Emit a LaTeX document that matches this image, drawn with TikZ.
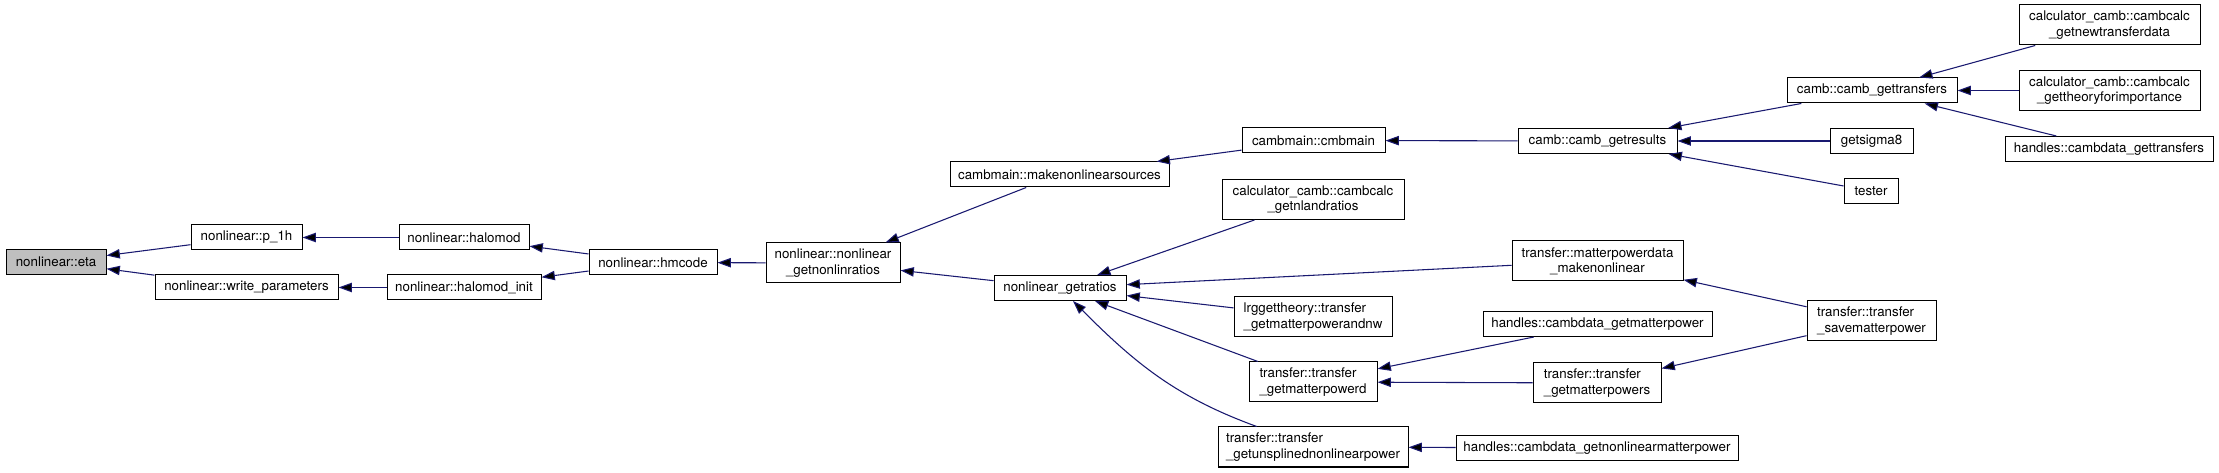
\documentclass[tikz,border=0pt]{standalone}
\usepackage{fontspec}
\setmainfont{TeX Gyre Heros}
\usetikzlibrary{arrows.meta}
\definecolor{edgeblue}{RGB}{25,25,112}
\definecolor{fillgray}{RGB}{191,191,191}

\begin{document}
\begin{tikzpicture}[x=0.75pt,y=0.75pt,
  box/.style={shape=rectangle,draw=black,line width=0.75pt,minimum height=18.75pt,inner sep=2pt,font=\fontsize{10}{11.5}\selectfont},
  twoline/.style={box,minimum height=30pt},
  call/.style={-{Triangle[length=10pt,width=7pt]},draw=edgeblue,line width=0.8pt}]

\path [fill=white,use as bounding box] (0,0) rectangle (2219,-473);

%draw the called function and its direct callers
\node [box,fill=fillgray,minimum width=75pt] at (56,-262) (eta) {nonlinear::eta};
\node [box,minimum width=83.25pt] at (246.5,-237.5) (p_1h) {nonlinear::p\_1h};
\node [box,minimum width=137.25pt] at (246.5,-287.5) (write_par) {nonlinear::write\_parameters};

%halo model column
\node [box,minimum width=97.5pt] at (464,-237.5) (halomod) {nonlinear::halomod};
\node [box,minimum width=115.5pt] at (464,-287.5) (halomod_init) {nonlinear::halomod\_init};
\node [box,minimum width=96pt] at (653,-262.5) (hmcode) {nonlinear::hmcode};
\node [twoline,align=center,minimum width=100.5pt] at (833,-263) (nonlinratios) {nonlinear::nonlinear\\\_getnonlinratios};

%sources and ratios
\node [box,minimum width=164.25pt] at (1059.5,-174.5) (makesources) {cambmain::makenonlinearsources};
\node [box,minimum width=99pt] at (1060,-288) (getratios) {nonlinear\_getratios};

%callers of nonlinear_getratios
\node [box,minimum width=107.25pt] at (1313.5,-140.5) (cmbmain) {cambmain::cmbmain};
\node [twoline,align=center,minimum width=136.5pt] at (1313,-199.5) (nlandratios) {calculator\_camb::cambcalc\\\_getnlandratios};
\node [twoline,align=left,minimum width=118.5pt] at (1313,-317) (lrg) {lrggettheory::transfer\\\_getmatterpowerandnw};
\node [twoline,align=left,minimum width=96pt] at (1313,-382) (powerd) {transfer::transfer\\\_getmatterpowerd};
\node [twoline,align=left,minimum width=142.5pt] at (1313,-447) (unsplined) {transfer::transfer\\\_getunsplinednonlinearpower};

%next column
\node [box,minimum width=119.25pt] at (1597.5,-141) (getresults) {camb::camb\_getresults};
\node [twoline,align=center,minimum width=128.25pt] at (1597.5,-261) (mpdata) {transfer::matterpowerdata\\\_makenonlinear};
\node [box,minimum width=171.75pt] at (1597.5,-324) (h_matterpower) {handles::cambdata\_getmatterpower};
\node [twoline,align=left,minimum width=96pt] at (1597,-383) (powers) {transfer::transfer\\\_getmatterpowers};
\node [box,minimum width=211.5pt] at (1597,-448) (h_nonlinear) {handles::cambdata\_getnonlinearmatterpower};

\node [box,minimum width=127.5pt] at (1872,-90.5) (gettransfers) {camb::camb\_gettransfers};
\node [box,minimum width=62.25pt] at (1871.5,-141) (sigma8) {getsigma8};
\node [box,minimum width=40.5pt] at (1871,-191) (tester) {tester};
\node [twoline,align=left,minimum width=96.75pt] at (1871.5,-321) (savepower) {transfer::transfer\\\_savematterpower};

%right most column
\node [twoline,align=center,minimum width=135.75pt] at (2109.5,-25) (newtransfer) {calculator\_camb::cambcalc\\\_getnewtransferdata};
\node [twoline,align=center,minimum width=135.75pt] at (2109.5,-90.5) (importance) {calculator\_camb::cambcalc\\\_gettheoryforimportance};
\node [box,minimum width=156pt] at (2109,-149) (h_transfers) {handles::cambdata\_gettransfers};

%edges from callers back to called functions
\draw [call] (p_1h) edge (eta);
\draw [call] (write_par) edge (eta);
\draw [call] (halomod) edge (p_1h);
\draw [call] (halomod_init) edge (write_par);
\draw [call] (hmcode) edge (halomod);
\draw [call] (hmcode) edge (halomod_init);
\draw [call] (nonlinratios) edge (hmcode);
\draw [call] (makesources) edge (nonlinratios);
\draw [call] (getratios) edge (nonlinratios);
\draw [call] (cmbmain) edge (makesources);

\draw [call] (nlandratios) edge (getratios);
\draw [call] (mpdata) edge (getratios);
\draw [call] (lrg) edge (getratios);
\draw [call] (powerd) edge (getratios);
\draw [call] (unsplined) edge[out=160,in=-45] (getratios);

\draw [call] (getresults) edge (cmbmain);
\draw [call] (gettransfers) edge (getresults);
\draw [call] (sigma8) edge (getresults);
\draw [call] (tester) edge (getresults);
\draw [call] (newtransfer) edge (gettransfers);
\draw [call] (importance) edge (gettransfers);
\draw [call] (h_transfers) edge (gettransfers);

\draw [call] (h_matterpower) edge (powerd);
\draw [call] (powers) edge (powerd);
\draw [call] (savepower) edge (mpdata);
\draw [call] (savepower) edge (powers);
\draw [call] (h_nonlinear) edge (unsplined);
\end{tikzpicture}
\end{document}
